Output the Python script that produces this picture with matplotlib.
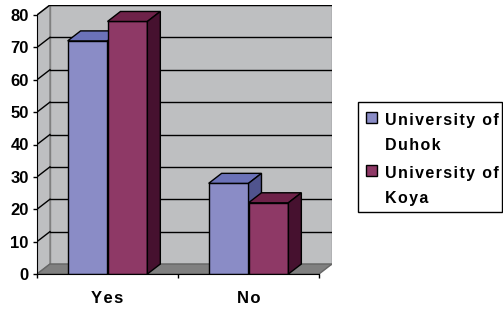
import numpy as np
import matplotlib.pyplot as plt
from matplotlib.patches import Polygon, Rectangle

plt.rcParams['font.family'] = ['Liberation Sans', 'DejaVu Sans']

HS = '\u200a'  # hair space, the reference text is letter-spaced


def spaced(s):
    return HS.join(s)


categories = ['Yes', 'No']
series_names = [['University of', 'Duhok'], ['University of', 'Koya']]
duhok = [72, 28]
koya = [78, 22]
yticks = [0, 10, 20, 30, 40, 50, 60, 70, 80]

front = ['#8a8cc6', '#8e3966']
top = ['#6b72b8', '#6e2249']
side = ['#50548e', '#46112f']

W, H = 503, 314
fig = plt.figure(figsize=(W / 100, H / 100), dpi=100)
ax = fig.add_axes([37 / W, 40 / H, 295 / W, 269 / H])

# depth of the fake 3d box, in data units
dx = 13 / 141.5
dy = 10 / 3.2375
ymax = 80
x0, x1 = -0.5, 1.5
ax.set_xlim(x0, x1 + dx)
ax.set_ylim(0, ymax + dy)

# walls and floor
ax.add_patch(Polygon([(x0 + dx, dy), (x1 + dx, dy), (x1 + dx, ymax + dy), (x0 + dx, ymax + dy)],
                     closed=True, fc='#bebfc1', ec='#808080', lw=1, zorder=0))
ax.add_patch(Polygon([(x0, 0), (x0 + dx, dy), (x0 + dx, ymax + dy), (x0, ymax)],
                     closed=True, fc='#bebfc1', ec='#808080', lw=1, zorder=0))
for v in yticks[1:]:
    ax.plot([x0 + dx, x1 + dx], [v + dy, v + dy], color='black', lw=1, zorder=0.5)
    ax.plot([x0, x0 + dx], [v, v + dy], color='black', lw=1, zorder=0.5)
ax.add_patch(Polygon([(x0, 0), (x1, 0), (x1 + dx, dy), (x0 + dx, dy)],
                     closed=True, fc='#808080', ec='#666666', lw=1, zorder=1))

# bars
w = 40 / 141.5
x = np.arange(len(categories))
for i, vals in enumerate([duhok, koya]):
    left = x - w + i * w
    ax.bar(left, vals, width=w, align='edge', color=front[i], edgecolor='black', lw=1, zorder=3 + i)
    for l, v in zip(left, vals):
        ax.add_patch(Polygon([(l, v), (l + w, v), (l + w + dx, v + dy), (l + dx, v + dy)],
                             closed=True, fc=top[i], ec='black', lw=1, zorder=3 + i))
        ax.add_patch(Polygon([(l + w, 0), (l + w + dx, dy), (l + w + dx, v + dy), (l + w, v)],
                             closed=True, fc=side[i], ec='black', lw=1, zorder=3 + i))

# axes
for s in ['top', 'right']:
    ax.spines[s].set_visible(False)
ax.spines['left'].set_bounds(0, ymax)
ax.spines['bottom'].set_bounds(x0, x1)
ax.spines['left'].set_zorder(6)
ax.spines['bottom'].set_zorder(6)
ax.set_yticks(yticks)
ax.set_yticklabels([str(t) for t in yticks], fontsize=12, fontweight='bold')
ax.tick_params(axis='y', length=3, width=1, pad=3)
ax.set_xticks([x0, 0.5, x1])
ax.set_xticklabels([])
ax.tick_params(axis='x', length=3, width=1)
ax.set_xticks(x, minor=True)
ax.set_xticklabels([spaced(c) for c in categories], minor=True, fontsize=12, fontweight='bold')
ax.tick_params(axis='x', which='minor', length=0, pad=12)
ax.set_facecolor('none')

# legend drawn by hand: marker sits on the first line of each label
fig.patches.append(Rectangle((358 / W, 1 - 212 / H), 144 / W, 110 / H, transform=fig.transFigure,
                             fc='white', ec='black', lw=1))
for i, (lines, y_base) in enumerate(zip(series_names, [125, 178])):
    fig.patches.append(Rectangle((366 / W, 1 - (y_base - 2) / H), 11 / W, 11 / H,
                                 transform=fig.transFigure, fc=front[i], ec='black', lw=1))
    for k, line in enumerate(lines):
        fig.text(385 / W, 1 - (y_base + 25 * k) / H, spaced(line), ha='left', va='baseline',
                 fontsize=11.5, fontweight='bold')

fig.savefig('out.png', dpi=100)
